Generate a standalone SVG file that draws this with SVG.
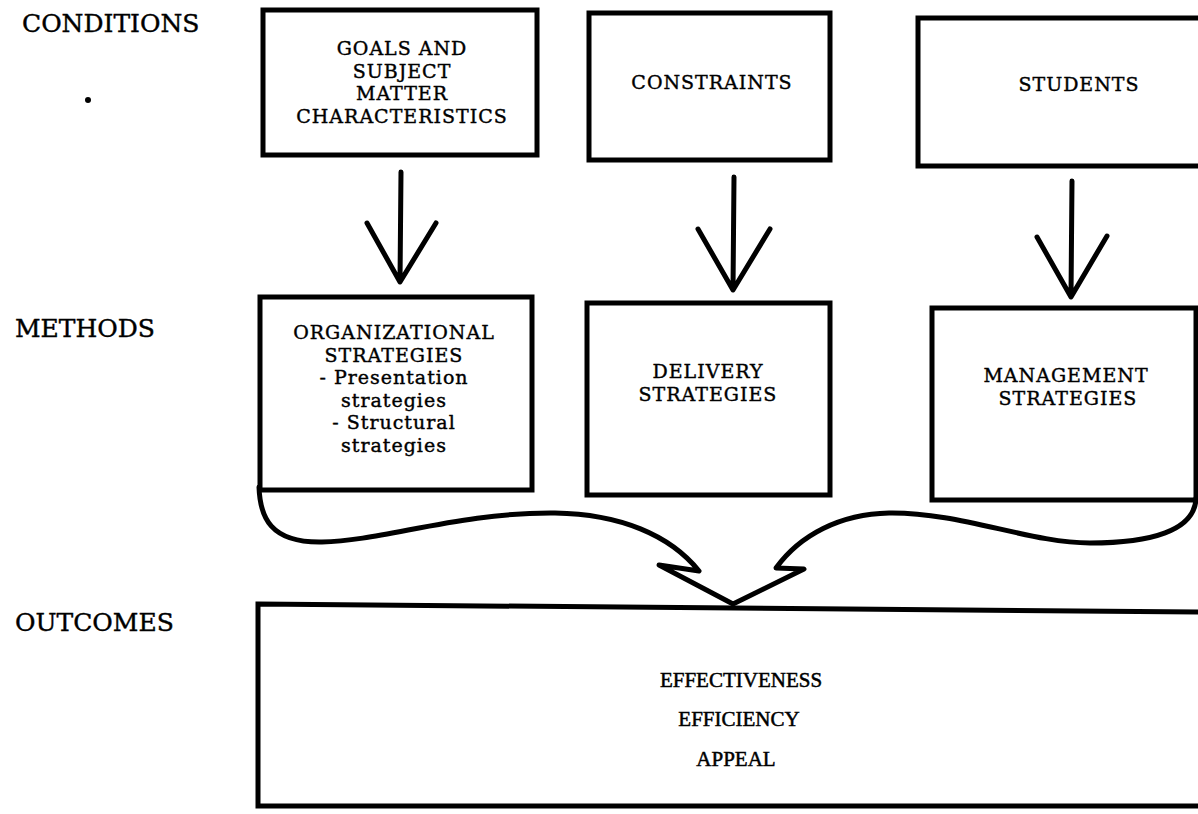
<svg xmlns="http://www.w3.org/2000/svg" width="1198" height="814" viewBox="0 0 1198 814">
<style>
.box{fill:none;stroke:#000;stroke-width:5}
.lbl{font-family:"DejaVu Serif",serif;font-size:25px;fill:#000;stroke:#000;stroke-width:0.4}
.t{font-family:"DejaVu Serif",serif;font-size:19px;letter-spacing:1px;fill:#000;stroke:#000;stroke-width:0.4;text-anchor:middle}
.o{font-family:"Liberation Serif",serif;font-size:21px;fill:#000;stroke:#000;stroke-width:0.5;text-anchor:middle}
.arr{fill:none;stroke:#000;stroke-width:5;stroke-linecap:round;stroke-linejoin:round}
</style>
<rect width="1198" height="814" fill="#fff"/>
<g id="labels">
<text class="lbl" x="22" y="32">CONDITIONS</text>
<circle cx="88" cy="100" r="3" fill="#000"/>
<text class="lbl" x="15" y="337">METHODS</text>
<text class="lbl" x="15" y="631">OUTCOMES</text>
</g>
<g id="goals">
<rect class="box" x="263" y="10" width="274" height="145"/>
<text class="t" x="402" y="55">GOALS AND</text>
<text class="t" x="402" y="77.5">SUBJECT</text>
<text class="t" x="402" y="100">MATTER</text>
<text class="t" x="402" y="122.5">CHARACTERISTICS</text>
</g>
<g id="constraints">
<rect class="box" x="589" y="13" width="241" height="147"/>
<text class="t" x="712" y="89">CONSTRAINTS</text>
</g>
<g id="students">
<rect class="box" x="918" y="18" width="290" height="148"/>
<text class="t" x="1079" y="91">STUDENTS</text>
</g>
<g id="organizational">
<rect class="box" x="260" y="297" width="272" height="193"/>
<text class="t" x="394" y="339">ORGANIZATIONAL</text>
<text class="t" x="394" y="361.5">STRATEGIES</text>
<text class="t" x="394" y="384">- Presentation</text>
<text class="t" x="394" y="406.5">strategies</text>
<text class="t" x="394" y="429">- Structural</text>
<text class="t" x="394" y="451.5">strategies</text>
</g>
<g id="delivery">
<rect class="box" x="587" y="303" width="243" height="192"/>
<text class="t" x="708" y="378">DELIVERY</text>
<text class="t" x="708" y="400.5">STRATEGIES</text>
</g>
<g id="management">
<rect class="box" x="932" y="308" width="264" height="192"/>
<text class="t" x="1066" y="382">MANAGEMENT</text>
<text class="t" x="1068" y="404.5">STRATEGIES</text>
</g>
<g id="outcomes">
<path class="box" d="M258,604 L1205,612 L1205,806 L258,806 Z"/>
<text class="o" x="741" y="687">EFFECTIVENESS</text>
<text class="o" x="739" y="726">EFFICIENCY</text>
<text class="o" x="736" y="766">APPEAL</text>
</g>
<g id="connectors">
<path class="arr" d="M401,172 L400,282 M367,223 L400,282 L436,223"/>
<path class="arr" d="M734,177 L733,290 M698,229 L733,290 L770,229"/>
<path class="arr" d="M1072,181 L1071,297 M1037,237 L1071,297 L1107,236"/>
<path class="arr" d="M259,487 C260,517 270,543 322,542 C382,541 460,512 555,513 C620,514 670,535 699,571 L659,565 L733,604 L804,569 L776,568 C800,535 840,514 889,513 C960,512 1030,543 1090,543 C1150,543 1195,531 1196,498"/>
</g>
</svg>
